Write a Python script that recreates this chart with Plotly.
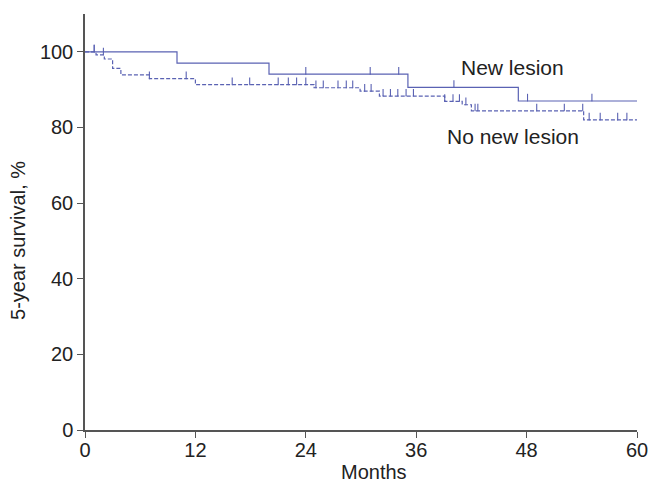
import plotly.graph_objects as go

# New lesion (solid) step curve
new_t = [0, 10.0, 20.0, 35.1, 47.1, 60]
new_s = [100, 97.0, 94.1, 90.6, 87.0, 87.0]
new_cens = [1.0, 24.0, 31.0, 34.1, 40.1, 48.1, 55.1]

# No new lesion (dashed) step curve
no_t = [0, 1.2, 2.1, 3.0, 3.9, 7.0, 12.0, 24.9, 29.9, 32.0, 39.1, 41.0, 42.0, 54.2, 60]
no_s = [100, 99.2, 98.1, 95.6, 93.9, 92.9, 91.3, 90.5, 89.6, 88.3, 86.9, 86.0, 84.4, 82.0, 82.0]
no_cens = [1.0, 2.0, 7.0, 11.0, 16.0, 17.9, 21.0, 22.1, 23.0, 24.0, 25.1, 25.9, 27.5,
           28.4, 29.1, 30.4, 31.1, 32.4, 33.2, 34.0, 34.9, 35.7, 39.1, 40.0, 40.7,
           41.4, 42.4, 42.7, 49.1, 52.1, 54.1, 54.8, 56.0, 57.9, 58.9]

x_ticks = [0, 12, 24, 36, 48, 60]
y_ticks = [0, 20, 40, 60, 80, 100]

COLOR = "#5a62b3"
FONT = "Liberation Sans, Arial, sans-serif"
FS = 20


def step_val(ts, ss, t):
    v = ss[0]
    for ti, si in zip(ts, ss):
        if ti <= t:
            v = si
    return v


fig = go.Figure()
fig.add_trace(go.Scatter(x=new_t, y=new_s, mode="lines", line_shape="hv",
                         line=dict(color=COLOR, width=1.2), showlegend=False))
fig.add_trace(go.Scatter(x=no_t, y=no_s, mode="lines", line_shape="hv",
                         line=dict(color=COLOR, width=1.2, dash="4px,2px"), showlegend=False))

for cens, ts, ss in [(new_cens, new_t, new_s), (no_cens, no_t, no_s)]:
    ys = [step_val(ts, ss, c) for c in cens]
    fig.add_trace(go.Scatter(
        x=cens, y=ys, mode="markers",
        marker=dict(size=1, color=COLOR),
        error_y=dict(type="data", symmetric=False, array=[1.9] * len(cens),
                     arrayminus=[0] * len(cens), width=0, thickness=1.1, color=COLOR),
        showlegend=False))

fig.add_annotation(x=46.5, y=95.8, text="New lesion", showarrow=False,
                   font=dict(size=21, color="#222", family=FONT))
fig.add_annotation(x=46.5, y=77.5, text="No new lesion", showarrow=False,
                   font=dict(size=21, color="#222", family=FONT))

# axis titles
fig.add_annotation(x=31.4, xref="x", y=0, yref="paper", yanchor="middle", yshift=-42,
                   text="Months", showarrow=False, font=dict(size=FS, color="#222", family=FONT))
fig.add_annotation(x=0, xref="paper", xanchor="center", xshift=-67, y=50, yref="y",
                   text="5-year survival, %", textangle=-90, showarrow=False,
                   font=dict(size=FS, color="#222", family=FONT))

fig.update_layout(
    width=651, height=486,
    margin=dict(l=85, r=14, t=14, b=56),
    plot_bgcolor="white", paper_bgcolor="white",
    font=dict(family=FONT, size=FS, color="#222"),
    xaxis=dict(range=[0, 60], tickvals=x_ticks, ticks="outside", ticklen=6,
               tickcolor="#555", showline=True, linecolor="#555", linewidth=1.5,
               showgrid=False, zeroline=False, automargin=False, ticklabelstandoff=-5),
    yaxis=dict(range=[0, 110], tickvals=y_ticks, ticks="outside", ticklen=6,
               tickcolor="#555", showline=True, linecolor="#555", linewidth=1.5,
               showgrid=False, zeroline=False, automargin=False),
)

fig.write_html("out.html", post_script="document.body.style.margin='0';",
               config={"displayModeBar": False})
